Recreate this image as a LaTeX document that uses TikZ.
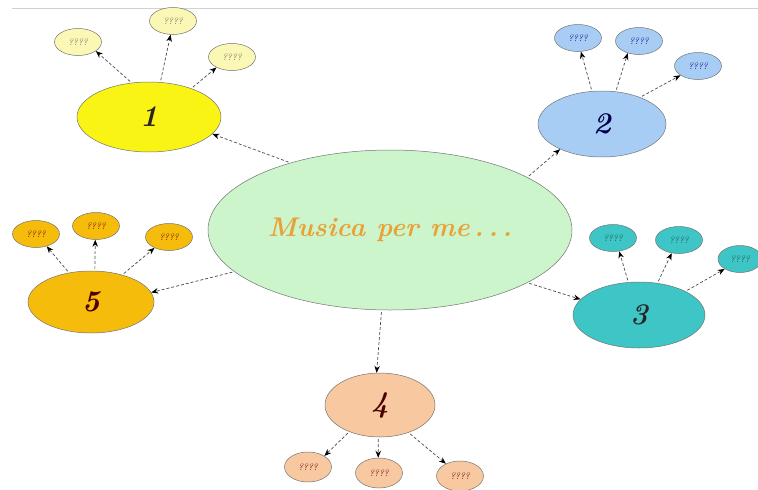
\documentclass[tikz,border=0pt]{standalone}
\usetikzlibrary{shapes.geometric,arrows.meta}
\definecolor{cgreen}{HTML}{CCF5CC}
\definecolor{cyel}{HTML}{FAF414}
\definecolor{cyelp}{HTML}{FAF8B4}
\definecolor{cblue}{HTML}{A8CDF5}
\definecolor{cteal}{HTML}{3EC6C6}
\definecolor{corange}{HTML}{F6BC0C}
\definecolor{cpeach}{HTML}{F8C8A0}
\definecolor{ctitle}{HTML}{E8A238}
\begin{document}
\begin{tikzpicture}[x=1pt,y=-1pt,
  ell/.style={ellipse, draw=black!55, line width=0.5pt, inner sep=0pt},
  big/.style={ell, font=\fontsize{30}{30}\selectfont\bfseries\itshape, text=black!85},
  small/.style={ell, minimum width=47pt, minimum height=27pt, font=\fontsize{9.5}{9.5}\selectfont\itshape},
  conn/.style={draw=black!70, line width=0.7pt, densely dashed, -{Stealth[length=7pt,width=5.5pt,black]}, shorten <=2pt}]
\useasboundingbox (0,0) rectangle (758,490);
\draw[black!18, line width=1pt] (12,8) -- (758,8);

% centre
\node[ell, fill=cgreen, minimum width=364pt, minimum height=160pt,
      font=\fontsize{27}{30}\selectfont\bfseries\itshape, text=ctitle] (c) at (390,230) {Musica per me\,.\,.\,.};

% main nodes
\node[big, fill=cyel, minimum width=144pt, minimum height=70pt] (n1) at (149,117) {1};
\node[big, fill=cblue, minimum width=128pt, minimum height=66pt, text=blue!30!black] (n2) at (602,124) {2};
\node[big, fill=cteal, minimum width=132pt, minimum height=66pt] (n3) at (639,315) {3};
\node[big, fill=cpeach, minimum width=110pt, minimum height=64pt, text=black!70!red] (n4) at (380,405) {4};
\node[big, fill=corange, minimum width=126pt, minimum height=62pt, text=black!70!red] (n5) at (91,302) {5};

% small nodes
\node[small, fill=cyelp, text=black!60] (s1a) at (78,42) {????};
\node[small, fill=cyelp, text=black!60] (s1b) at (173,21) {????};
\node[small, fill=cyelp, text=black!60] (s1c) at (232,57) {????};

\node[small, fill=cblue, text=blue!50!black] (s2a) at (578,38) {????};
\node[small, fill=cblue, text=blue!50!black] (s2b) at (639,41) {????};
\node[small, fill=cblue, text=blue!50!black] (s2c) at (698,66) {????};

\node[small, fill=cteal, text=cteal!40!black] (s3a) at (613,238) {????};
\node[small, fill=cteal, text=cteal!40!black] (s3b) at (679,240) {????};
\node[small, fill=cteal, text=cteal!40!black, minimum width=44pt] (s3c) at (740,259) {????};

\node[small, fill=cpeach, text=black!60!red, minimum height=30pt] (s4a) at (308,467) {????};
\node[small, fill=cpeach, text=black!60!red, minimum height=30pt] (s4b) at (379,473) {????};
\node[small, fill=cpeach, text=black!60!red, minimum height=30pt] (s4c) at (460,476) {????};

\node[small, fill=corange, text=black!60!red] (s5a) at (36,234) {????};
\node[small, fill=corange, text=black!60!red] (s5b) at (96,226) {????};
\node[small, fill=corange, text=black!60!red] (s5c) at (169,237) {????};

% connectors from centre
\draw[conn] (c.146) -- (n1.-15);
\draw[conn] (c.21) -- (n2.211);
\draw[conn] (c.-21) -- (n3.165);
\draw[conn] (c.264) -- (n4.96);
\draw[conn] (c.195) -- (n5.9);

% connectors to small nodes
\draw[conn] (n1.117) -- (s1a.-27);
\draw[conn] (n1.72) -- (s1b.260);
\draw[conn] (n1.34) -- (s1c.214);

\draw[conn] (n2.107) -- (s2a.-78);
\draw[conn] (n2.67) -- (s2b.227);
\draw[conn] (n2.35) -- (s2c.208);

\draw[conn] (n3.108) -- (s3a.-65);
\draw[conn] (n3.60) -- (s3b.241);
\draw[conn] (n3.27) -- (s3c.213);

\draw[conn] (n4.221) -- (s4a.34);
\draw[conn] (n4.267) -- (s4b.93);
\draw[conn] (n4.-44) -- (s4c.139);

\draw[conn] (n5.127) -- (s5a.-49);
\draw[conn] (n5.83) -- (s5b.267);
\draw[conn] (n5.41) -- (s5c.217);
\end{tikzpicture}
\end{document}
